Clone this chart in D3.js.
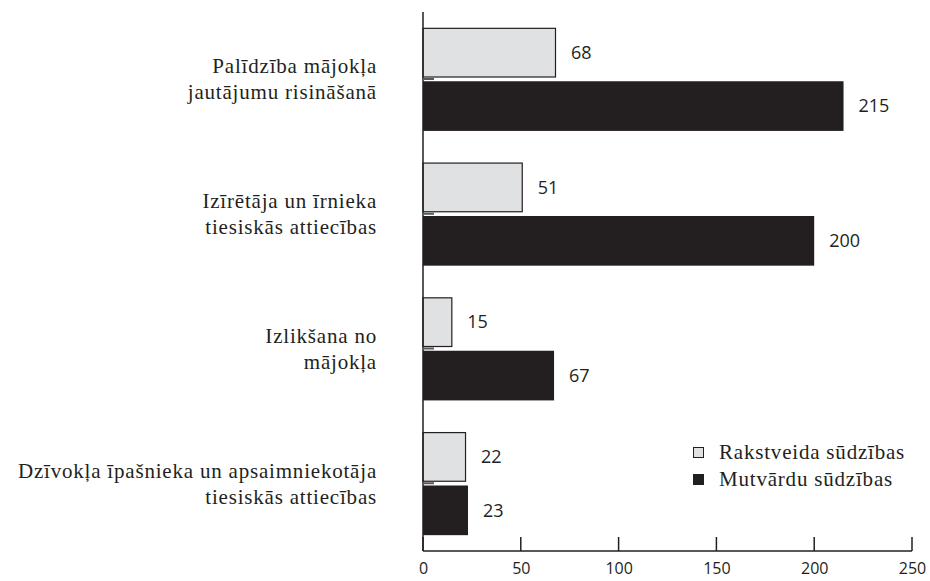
<!DOCTYPE html>
<html>
<head>
<meta charset="utf-8">
<script src="https://cdn.jsdelivr.net/npm/d3@7"></script>
<style>
  body { margin: 0; background: #fff; }
  svg { display: block; }
</style>
</head>
<body>
<svg id="chart" width="930" height="581"></svg>
<script>
(function() {

	// dati
	var categories = [
		["Palīdzība mājokļa", "jautājumu risināšanā"],
		["Izīrētāja un īrnieka", "tiesiskās attiecības"],
		["Izlikšana no", "mājokļa"],
		["Dzīvokļa īpašnieka un apsaimniekotāja", "tiesiskās attiecības"]
	];
	var seriesNames = ["Rakstveida sūdzības", "Mutvārdu sūdzības"];
	var rakstveida = [68, 51, 15, 22];
	var mutvardu = [215, 200, 67, 23];
	var ticks = [0, 50, 100, 150, 200, 250];

	var ink = '#231f20',
		light = '#e0e1e3',
		serif = '"Liberation Serif", "DejaVu Serif", serif',
		sans = '"Open Sans", "Liberation Sans", sans-serif';

	var left = 423, right = 912, top = 12, bottom = 551;

	var svg = d3.select('#chart');

	var x = d3.scaleLinear().domain([0, 250]).range([left, right]);
	var y = d3.scaleBand().domain(d3.range(categories.length))
		.range([top, bottom]).paddingInner(0.235).paddingOuter(0.1175);
	var y1 = d3.scaleBand().domain([0, 1]).range([0, y.bandwidth()]).paddingInner(0.07);

	var rows = categories.map(function(c, i) {
		return { label: c, values: [rakstveida[i], mutvardu[i]] };
	});

	var group = svg.selectAll('.group').data(rows).enter()
		.append('g')
			.attr('class', 'group')
			.attr('transform', function(d, i) { return 'translate(0,' + y(i) + ')'; });

	// stabiņi
	group.selectAll('rect.bar')
		.data(function(d) { return d.values.map(function(v, s) { return { v: v, s: s }; }); })
		.enter()
		.append('rect')
			.attr('class', 'bar')
			.attr('x', x(0))
			.attr('y', function(d) { return y1(d.s) + (d.s === 0 ? 0.5 : 0); })
			.attr('width', function(d) { return x(d.v) - x(0) - (d.s === 0 ? 0.5 : 0); })
			.attr('height', function(d) { return y1.bandwidth() - (d.s === 0 ? 1 : 0); })
			.attr('fill', function(d) { return d.s === 0 ? light : ink; })
			.attr('stroke', function(d) { return d.s === 0 ? ink : 'none'; })
			.attr('stroke-width', 1.2);

	// mazā ēna zem gaišā stabiņa
	group.append('rect')
		.attr('x', x(0) + 1)
		.attr('y', y1(0) + y1.bandwidth() + 0.5)
		.attr('width', 10)
		.attr('height', 2)
		.attr('fill', '#58595b');

	// vērtības
	group.selectAll('text.val')
		.data(function(d) { return d.values.map(function(v, s) { return { v: v, s: s }; }); })
		.enter()
		.append('text')
			.attr('class', 'val')
			.attr('x', function(d) { return x(d.v) + 15; })
			.attr('y', function(d) { return y1(d.s) + y1.bandwidth() / 2; })
			.attr('dy', '0.35em')
			.attr('font-family', sans)
			.attr('font-size', 18)
			.attr('fill', ink)
			.text(function(d) { return d.v; });

	// kategoriju nosaukumi
	group.append('text')
		.attr('text-anchor', 'end')
		.attr('font-family', serif)
		.attr('font-size', 21)
		.attr('letter-spacing', 0.8)
		.attr('fill', ink)
		.selectAll('tspan')
		.data(function(d) { return d.label; })
		.enter()
		.append('tspan')
			.attr('x', 377)
			.attr('y', function(d, i) { return y.bandwidth() / 2 - 6 + i * 26; })
			.text(function(d) { return d; });

	// asis
	var xAxis = d3.axisBottom(x).tickValues(ticks).tickSize(0).tickPadding(12);
	var ax = svg.append('g')
		.attr('transform', 'translate(0,' + bottom + ')')
		.call(xAxis);
	ax.select('.domain').remove();
	ax.selectAll('text')
		.attr('font-family', sans)
		.attr('font-size', 16)
		.attr('fill', ink);

	svg.append('line')
		.attr('x1', left).attr('x2', right)
		.attr('y1', bottom).attr('y2', bottom)
		.attr('stroke', ink).attr('stroke-width', 1.5);

	svg.selectAll('.tick-up').data(ticks).enter()
		.append('line')
			.attr('class', 'tick-up')
			.attr('x1', function(d) { return x(d); })
			.attr('x2', function(d) { return x(d); })
			.attr('y1', bottom)
			.attr('y2', bottom - 14)
			.attr('stroke', ink).attr('stroke-width', 1.5);

	svg.append('line')
		.attr('x1', left).attr('x2', left)
		.attr('y1', top).attr('y2', bottom)
		.attr('stroke', ink).attr('stroke-width', 1.5);

	// leģenda
	var legend = svg.selectAll('.legend').data(seriesNames).enter()
		.append('g')
			.attr('class', 'legend')
			.attr('transform', function(d, i) { return 'translate(693,' + (452 + i * 27) + ')'; });

	legend.append('rect')
		.attr('x', 0.5).attr('y', -4.5)
		.attr('width', 10).attr('height', 10)
		.attr('fill', function(d, i) { return i === 0 ? light : ink; })
		.attr('stroke', ink)
		.attr('stroke-width', 1);

	legend.append('text')
		.attr('x', 26)
		.attr('y', 0)
		.attr('dy', '0.35em')
		.attr('font-family', serif)
		.attr('font-size', 21)
		.attr('letter-spacing', 0.8)
		.attr('fill', ink)
		.text(function(d) { return d; });

})();
</script>
</body>
</html>
